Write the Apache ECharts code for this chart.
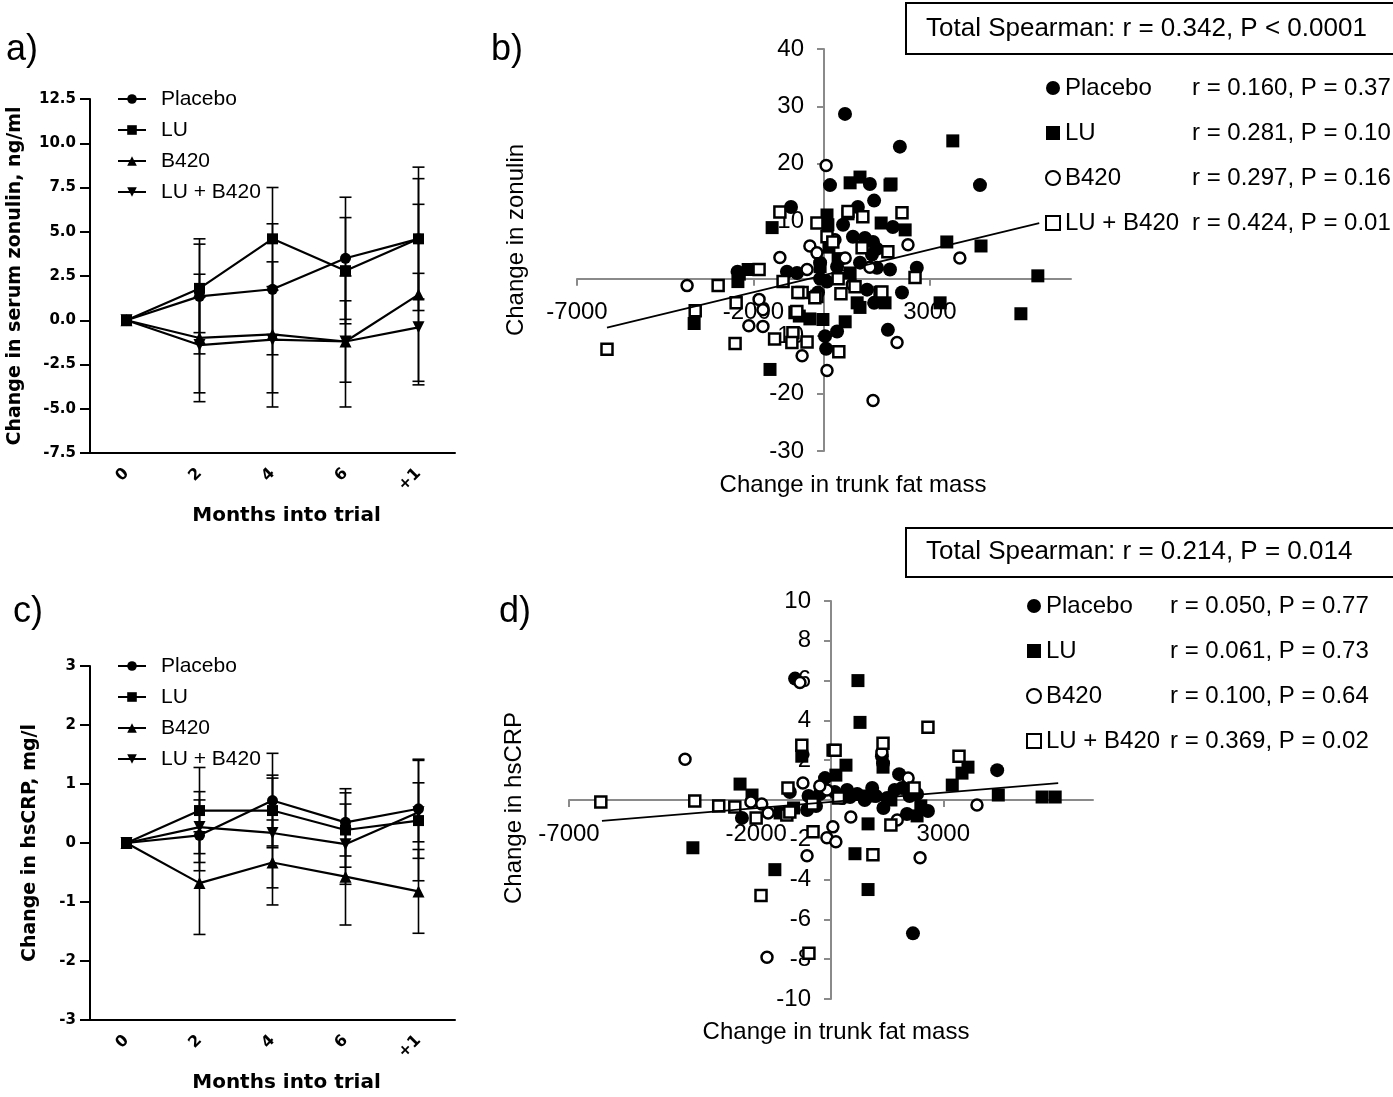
<!DOCTYPE html>
<html>
<head>
<meta charset="utf-8">
<script src="https://cdn.jsdelivr.net/npm/echarts@6/dist/echarts.min.js"></script>
<style>
  html, body { margin: 0; padding: 0; background: #fff; }
  #chart { width: 1393px; height: 1097px; }
</style>
</head>
<body>
<div id="chart"></div>
<script>
// ---- data ----
const months = ['0', '2', '4', '6', '+1'];
const groups = ['Placebo', 'LU', 'B420', 'LU + B420'];

// a) change in serum zonulin (mean, error)
const zonPlacebo = [0, 1.35, 1.75, 3.5, 4.6];
const zonLU = [0, 1.8, 4.6, 2.8, 4.6];
const zonB420 = [0, -1.0, -0.8, -1.2, 1.45];
const zonLUB420 = [0, -1.4, -1.1, -1.2, -0.4];
const zonErrPlacebo = [0, 3.25, 3.7, 3.45, 4.05];
const zonErrLU = [0, 2.5, 2.9, 3.0, 3.4];
const zonErrB420 = [0, 3.6, 4.1, 2.3, 5.1];
const zonErrLUB420 = [0, 2.7, 3.0, 3.7, 3.05];

// c) change in hsCRP (mean, error)
const crpPlacebo = [0, 0.13, 0.72, 0.35, 0.58];
const crpLU = [0, 0.55, 0.55, 0.22, 0.38];
const crpB420 = [0, -0.68, -0.33, -0.57, -0.82];
const crpLUB420 = [0, 0.27, 0.17, -0.02, 0.52];
const crpErrPlacebo = [0, 0.6, 0.8, 0.57, 0.84];
const crpErrLU = [0, 0.73, 0.6, 0.63, 1.02];
const crpErrB420 = [0, 0.87, 0.72, 0.82, 0.71];
const crpErrLUB420 = [0, 0.6, 0.93, 0.68, 0.5];

// b) trunk fat mass change vs zonulin change
const zonFatPlacebo = [[595, 28.7], [2150, 23], [4420, 16.3], [170, 16.3], [1300, 16.5], [1420, 13.6], [960, 12.5], [-935, 12.5], [540, 9.4], [820, 7.3], [1160, 7.1], [1390, 6.4], [1950, 9.0], [1500, 5.2], [1360, 4.2], [1020, 2.8], [1500, 1.9], [1870, 1.6], [2630, 1.9], [-765, 1.0], [-1050, 1.2], [-110, 2.8], [370, 2.1], [-110, 0], [85, -0.5], [-170, -2.4], [1220, -1.9], [2210, -2.4], [1420, -4.2], [1810, -8.9], [370, -9.2], [30, -10], [60, -12.2], [-2450, 1.2]];
const zonFatLU = [[3650, 24], [1870, 16.3], [740, 16.7], [1020, 17.7], [1900, 16.5], [-1470, 8.9], [85, 11.1], [110, 9.4], [680, 11.3], [1620, 9.7], [2300, 8.5], [3480, 6.4], [4450, 5.7], [-110, 2.1], [740, 1.0], [-2150, 1.6], [-2440, -0.5], [940, -4.2], [1730, -4.2], [3290, -4.2], [6060, 0.5], [5580, -6.1], [-3680, -7.8], [-1530, -15.8], [600, -7.5], [-400, -7.0], [-30, -7.1], [1020, -5.0], [-2400, 0.8], [400, 3.5], [-700, -6.5], [140, 5.5]];
const zonFatB420 = [[60, 19.7], [-3880, -1.2], [-1250, 3.7], [-400, 5.7], [-480, 1.6], [2380, 5.9], [3850, 3.6], [310, 6.8], [600, 3.6], [-1840, -3.6], [-1730, -5.4], [-2130, -8.2], [-1730, -8.3], [-620, -13.4], [85, -16.0], [1390, -21.2], [2070, -11.1], [1300, 2.0], [-200, 4.5], [800, -1.0]];
const zonFatLUB420 = [[-6150, -12.3], [-3650, -5.6], [-3000, -1.2], [-2520, -11.3], [-1840, 1.6], [-2490, -4.2], [-1250, 11.6], [-1160, -0.5], [-820, -5.9], [-880, -9.4], [-480, -11.0], [-910, -11.1], [420, -12.7], [-620, -2.4], [-200, -3.1], [480, -2.6], [400, 0], [-200, 9.7], [680, 11.7], [1100, 10.8], [2210, 11.5], [85, 7.3], [250, 6.4], [1810, 4.7], [2580, 0.2], [1080, 5.4], [1590, -2.4], [880, -1.4], [-740, -2.4], [-260, -3.3], [-770, -5.7], [1640, -2.3], [-1400, -10.5]];
const zonTrend = [[-6150, -8.5], [6100, 9.7]];

// d) trunk fat mass change vs hsCRP change
const crpFatPlacebo = [[-960, 6.1], [2190, -6.7], [4440, 1.5], [1360, 2.2], [1820, 1.3], [-160, 1.1], [-1100, 0.4], [-2380, -0.9], [2590, -0.55], [430, 0.5], [510, 0.15], [2030, -0.7], [-640, -0.5], [-600, 0.2], [-300, 0.3], [100, 0.4], [300, 0.1], [700, 0.3], [900, 0.0], [1200, 0.2], [1500, 0.1], [1700, 0.5], [1900, 0.6], [2100, 0.2], [1400, -0.4], [-400, -0.3], [2300, 0.3], [1100, 0.6], [1390, 1.85]];
const crpFatLU = [[720, 6.0], [775, 3.9], [-2430, 0.8], [-2110, 0.25], [-3690, -2.4], [-1500, -3.5], [640, -2.7], [990, -4.5], [4470, 0.25], [5640, 0.15], [5990, 0.15], [3240, 0.75], [3500, 1.35], [3660, 1.65], [400, 1.75], [130, 1.25], [1390, 1.65], [-780, 2.2], [990, -1.2], [2300, -0.8], [-1360, -0.65], [50, 2.5], [1000, 0.2], [1600, 0.0], [-1000, -0.4], [2400, -0.3]];
const crpFatB420 = [[-3900, 2.05], [-1710, -7.9], [-750, 0.85], [-2140, -0.1], [-1850, -0.2], [-1680, -0.65], [-640, -2.8], [50, -1.35], [-110, -1.9], [130, -2.1], [530, -0.85], [2060, 1.1], [2380, -2.9], [3900, -0.25], [1360, 2.4], [-830, 5.9], [-110, 0.5], [1770, -1.0], [-300, 0.7]];
const crpFatLUB420 = [[-6150, -0.1], [-3640, -0.05], [-3000, -0.3], [-2570, -0.35], [-1180, -0.75], [-1150, 0.6], [-780, 2.75], [110, 2.5], [1390, 2.85], [2590, 3.65], [3420, 2.2], [2220, 0.6], [1600, -1.25], [1120, -2.75], [-480, -1.6], [-1870, -4.8], [-590, -7.7], [-2000, -0.9], [-500, -0.2], [200, 0.1], [-1100, -0.6]];
const crpTrend = [[-6120, -1.05], [6070, 0.85]];

const statsZonulin = ['r = 0.160, P = 0.37', 'r = 0.281, P = 0.10', 'r = 0.297, P = 0.16', 'r = 0.424, P = 0.01'];
const statsCrp = ['r = 0.050, P = 0.77', 'r = 0.061, P = 0.73', 'r = 0.100, P = 0.64', 'r = 0.369, P = 0.02'];
const totalZonulin = 'Total Spearman: r = 0.342, P < 0.0001';
const totalCrp = 'Total Spearman: r = 0.214, P = 0.014';

const fatTicks = [-7000, -2000, 3000];
const zonTicks = [-30, -20, -10, 10, 20, 30, 40];
const crpTicks = [-10, -8, -6, -4, -2, 2, 4, 6, 8, 10];

// ---- styles ----
const SANS = '"Liberation Sans", Arial, sans-serif';
const PRISM = '"DejaVu Sans", sans-serif';
const prismSymbols = ['circle', 'rect', 'triangle', 'path://M0,0L10,0L5,9Z'];
const scatterSymbols = ['circle', 'rect', 'circle', 'rect'];
const filled = [true, true, false, false];
const grey = '#8a8a8a';

function errorBar(params, api) {
  const e = api.value(2);
  if (!e) return null;
  const x = api.value(0), y = api.value(1);
  const hi = api.coord([x, y + e]);
  const lo = api.coord([x, y - e]);
  const w = 6;
  const st = { stroke: '#000', lineWidth: 1.6 };
  return {
    type: 'group',
    children: [
      { type: 'line', shape: { x1: hi[0], y1: hi[1], x2: lo[0], y2: lo[1] }, style: st },
      { type: 'line', shape: { x1: hi[0] - w, y1: hi[1], x2: hi[0] + w, y2: hi[1] }, style: st },
      { type: 'line', shape: { x1: lo[0] - w, y1: lo[1], x2: lo[0] + w, y2: lo[1] }, style: st }
    ]
  };
}

function trialSeries(idx, means, errs) {
  const out = [];
  means.forEach((m, k) => out.push({
    type: 'custom', xAxisIndex: idx, yAxisIndex: idx, z: 1, silent: true,
    encode: { x: 0, y: 1 },
    data: months.map((_, i) => [i, m[i], errs[k][i]]),
    renderItem: errorBar
  }));
  means.forEach((m, k) => out.push({
    name: groups[k], type: 'line', xAxisIndex: idx, yAxisIndex: idx, z: 3,
    data: m, symbol: prismSymbols[k], symbolSize: k < 2 ? 11 : 12,
    itemStyle: { color: '#000' }, lineStyle: { color: '#000', width: 2.2 }
  }));
  return out;
}

function scatterSeries(prefix, idx, sets, trend) {
  const out = sets.map((pts, k) => ({
    name: prefix + groups[k], type: 'scatter', xAxisIndex: idx, yAxisIndex: idx,
    data: pts, symbol: scatterSymbols[k], symbolSize: filled[k] ? (k === 0 ? 14 : 13) : 11,
    itemStyle: filled[k]
      ? { color: '#000', opacity: 1 }
      : { color: '#fff', borderColor: '#000', borderWidth: 2.5, opacity: 1 }
  }));
  out.push({
    type: 'line', xAxisIndex: idx, yAxisIndex: idx, data: trend, symbol: 'none', silent: true,
    lineStyle: { color: '#000', width: 1.8 }, z: 4
  });
  return out;
}

function prismX(idx) {
  return {
    type: 'category', gridIndex: idx, data: months, boundaryGap: true,
    axisLine: { onZero: false, lineStyle: { color: '#000', width: 2 } },
    axisTick: { alignWithLabel: true, length: 7, lineStyle: { color: '#000', width: 2 } },
    axisLabel: { rotate: 45, color: '#000', fontFamily: PRISM, fontWeight: 'bold', fontSize: 16, margin: 18 },
    splitLine: { show: false },
    name: 'Months into trial', nameLocation: 'middle', nameGap: 53,
    nameTextStyle: { color: '#000', fontFamily: PRISM, fontWeight: 'bold', fontSize: 20, padding: [0, 0, 0, 28] }
  };
}

function prismY(idx, min, max, step, fmt, title, gap) {
  return {
    type: 'value', gridIndex: idx, min: min, max: max, interval: step,
    axisLine: { show: true, onZero: false, lineStyle: { color: '#000', width: 2 } },
    axisTick: { show: true, length: 10, lineStyle: { color: '#000', width: 2 } },
    axisLabel: { color: '#000', fontFamily: PRISM, fontWeight: 'bold', fontSize: 15, margin: 14, formatter: fmt },
    splitLine: { show: false },
    name: title, nameLocation: 'middle', nameGap: gap,
    nameTextStyle: { color: '#000', fontFamily: PRISM, fontWeight: 'bold', fontSize: 19 }
  };
}

// value axis drawn through the origin (shifted into the grid with a negative offset)
function excelAxis(idx, min, max, ticks, margin, offset) {
  return {
    type: 'value', gridIndex: idx, min: min, max: max, offset: offset,
    axisLine: { show: true, onZero: false, lineStyle: { color: grey, width: 2 } },
    axisTick: { show: true, customValues: ticks, length: 7, lineStyle: { color: grey, width: 2 } },
    axisLabel: { customValues: ticks, color: '#000', fontFamily: SANS, fontSize: 24, margin: margin, formatter: v => String(v) },
    splitLine: { show: false }
  };
}

function scatterLegend(prefix, stats, left, top, nameWidth) {
  return {
    orient: 'vertical', left: left, top: top, itemWidth: 14, itemHeight: 14, itemGap: 15,
    selectedMode: false,
    data: groups.map((g, k) => ({ name: prefix + g, icon: scatterSymbols[k] })),
    formatter: name => {
      const k = groups.indexOf(name.slice(prefix.length));
      return '{n|' + groups[k] + '}{s|' + stats[k] + '}';
    },
    textStyle: {
      color: '#000', fontFamily: SANS, fontSize: 24, lineHeight: 30,
      rich: {
        n: { width: nameWidth, fontFamily: SANS, fontSize: 24, lineHeight: 30, color: '#000' },
        s: { fontFamily: SANS, fontSize: 24, lineHeight: 30, color: '#000' }
      }
    }
  };
}

function prismLegend(top) {
  return {
    orient: 'vertical', left: 112, top: top, itemWidth: 28, itemHeight: 12, itemGap: 9,
    selectedMode: false, data: groups,
    textStyle: { color: '#000', fontFamily: SANS, fontSize: 21, lineHeight: 22, padding: [0, 0, 0, 10] }
  };
}

function label(text, x, y, size, rot) {
  return {
    type: 'text', x: x, y: y, rotation: rot || 0,
    style: { text: text, font: size + 'px ' + SANS, fill: '#000', align: 'center', verticalAlign: 'middle' }
  };
}

const chart = echarts.init(document.getElementById('chart'));
chart.setOption({
  animation: false,
  backgroundColor: '#fff',
  grid: [
    { left: 90, top: 99, width: 365, height: 354 },
    { left: 577, top: 49, width: 494, height: 402 },
    { left: 90, top: 666, width: 365, height: 354 },
    { left: 569, top: 601, width: 524, height: 398 }
  ],
  xAxis: [
    prismX(0),
    excelAxis(1, -7000, 7000, fatTicks, 22, -172.3),
    prismX(2),
    excelAxis(3, -7000, 7000, fatTicks, 22, -199)
  ],
  yAxis: [
    prismY(0, -7.5, 12.5, 2.5, v => v.toFixed(1), 'Change in serum zonulin, ng/ml', 65),
    excelAxis(1, -30, 40, zonTicks, 20, -247),
    prismY(2, -3, 3, 1, v => String(v), 'Change in hsCRP, mg/l', 50),
    excelAxis(3, -10, 10, crpTicks, 20, -262)
  ],
  legend: [
    prismLegend(83),
    scatterLegend('b:', statsZonulin, 1040, 68, 127),
    prismLegend(650),
    scatterLegend('d:', statsCrp, 1021, 586, 124)
  ],
  graphic: [
    label('a)', 22, 50, 36),
    label('b)', 507, 50, 36),
    label('c)', 28, 612, 36),
    label('d)', 515, 612, 36),
    label('Change in trunk fat mass', 853, 485, 24),
    label('Change in zonulin', 516, 240, 24, Math.PI / 2),
    label('Change in trunk fat mass', 836, 1032, 24),
    label('Change in hsCRP', 514, 808, 24, Math.PI / 2),
    { type: 'rect', shape: { x: 906, y: 3, width: 520, height: 51 }, style: { fill: 'none', stroke: '#000', lineWidth: 2 } },
    { type: 'text', x: 926, y: 29, style: { text: totalZonulin, font: '26px ' + SANS, fill: '#000', verticalAlign: 'middle' } },
    { type: 'rect', shape: { x: 906, y: 528, width: 520, height: 49 }, style: { fill: 'none', stroke: '#000', lineWidth: 2 } },
    { type: 'text', x: 926, y: 552, style: { text: totalCrp, font: '26px ' + SANS, fill: '#000', verticalAlign: 'middle' } }
  ],
  series: [].concat(
    trialSeries(0, [zonPlacebo, zonLU, zonB420, zonLUB420], [zonErrPlacebo, zonErrLU, zonErrB420, zonErrLUB420]),
    scatterSeries('b:', 1, [zonFatPlacebo, zonFatLU, zonFatB420, zonFatLUB420], zonTrend),
    trialSeries(2, [crpPlacebo, crpLU, crpB420, crpLUB420], [crpErrPlacebo, crpErrLU, crpErrB420, crpErrLUB420]),
    scatterSeries('d:', 3, [crpFatPlacebo, crpFatLU, crpFatB420, crpFatLUB420], crpTrend)
  )
});
</script>
</body>
</html>
